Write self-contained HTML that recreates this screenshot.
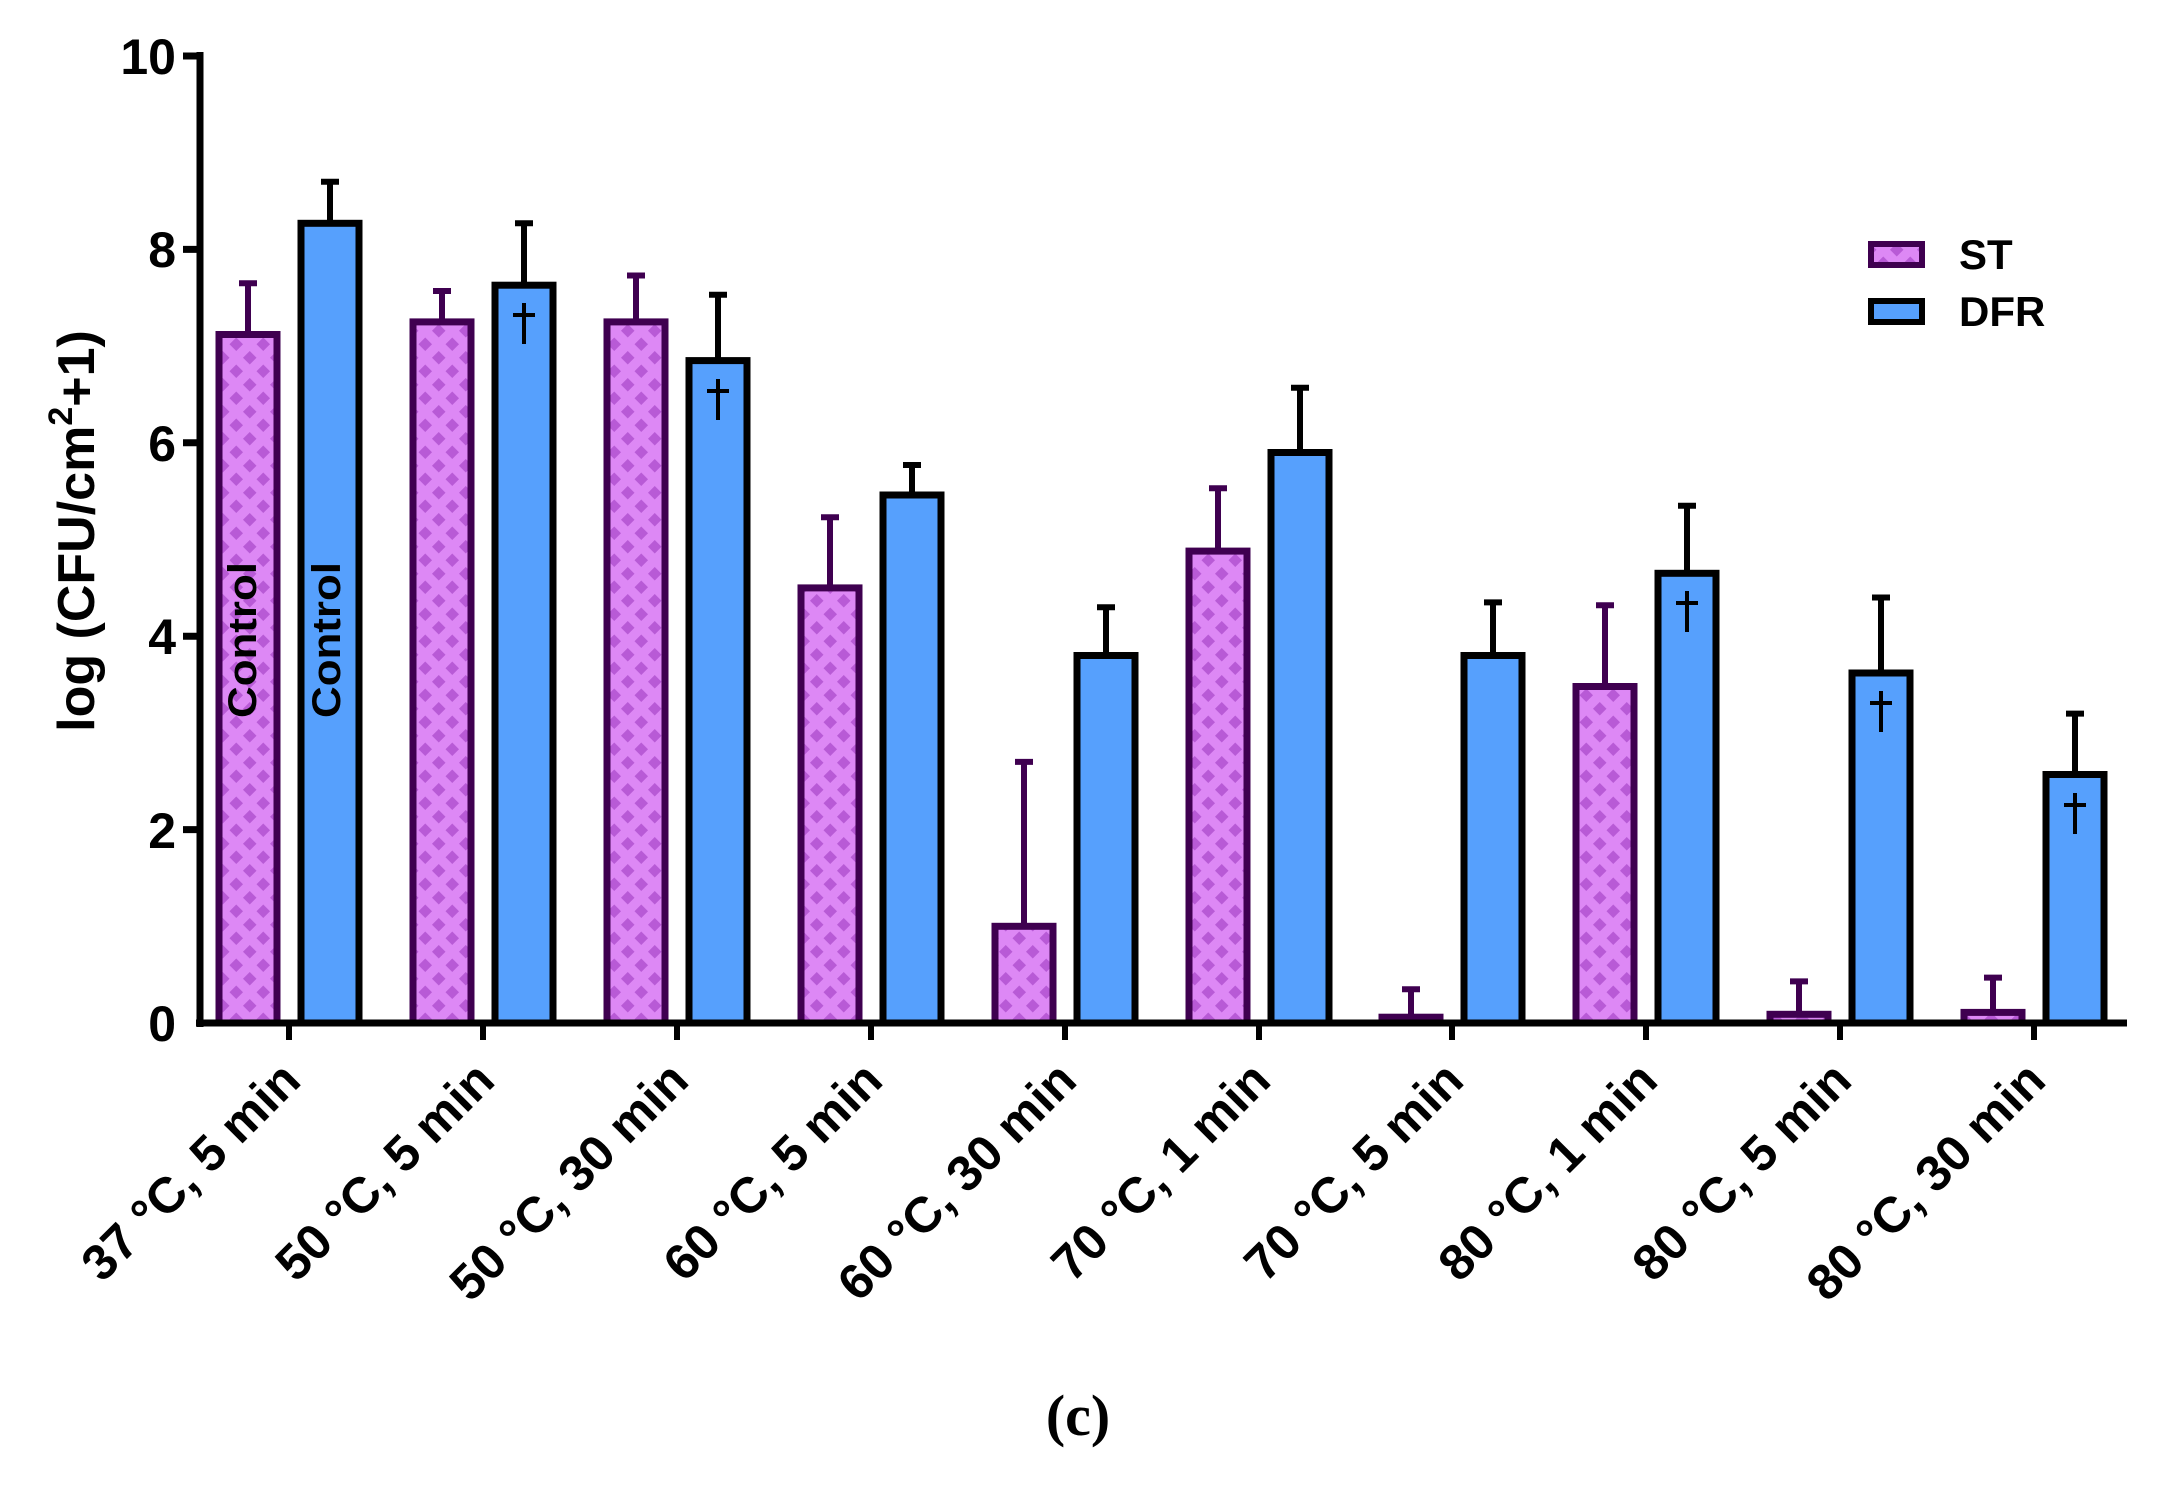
<!DOCTYPE html>
<html><head><meta charset="utf-8"><style>
html,body{margin:0;padding:0;background:#fff;}
svg{display:block;}
text{font-family:"Liberation Sans",Arial,sans-serif;font-weight:bold;fill:#000;}
</style></head><body>
<svg width="2166" height="1489" viewBox="0 0 2166 1489" xmlns="http://www.w3.org/2000/svg">
<defs>
<pattern id="dia" patternUnits="userSpaceOnUse" width="27" height="27" x="0" y="0">
<rect width="27" height="27" fill="#dd88f5"/>
<polygon points="6.75,0 13.5,6.75 6.75,13.5 0,6.75" fill="#b85ad6"/>
<polygon points="20.25,13.5 27,20.25 20.25,27 13.5,20.25" fill="#b85ad6"/>
</pattern>
</defs>
<!-- error bars ST -->
<g stroke="#3f0050" stroke-width="6">
<line x1="248" y1="334.5" x2="248" y2="283.2"/><line x1="239" y1="283.2" x2="257" y2="283.2"/>
<line x1="442" y1="321.9" x2="442" y2="291.0"/><line x1="433" y1="291.0" x2="451" y2="291.0"/>
<line x1="636" y1="321.9" x2="636" y2="275.5"/><line x1="627" y1="275.5" x2="645" y2="275.5"/>
<line x1="830" y1="587.9" x2="830" y2="517.3"/><line x1="821" y1="517.3" x2="839" y2="517.3"/>
<line x1="1024" y1="926.3" x2="1024" y2="761.9"/><line x1="1015" y1="761.9" x2="1033" y2="761.9"/>
<line x1="1218" y1="551.1" x2="1218" y2="488.2"/><line x1="1209" y1="488.2" x2="1227" y2="488.2"/>
<line x1="1411" y1="1017.2" x2="1411" y2="989.2"/><line x1="1402" y1="989.2" x2="1420" y2="989.2"/>
<line x1="1605" y1="686.5" x2="1605" y2="605.3"/><line x1="1596" y1="605.3" x2="1614" y2="605.3"/>
<line x1="1799" y1="1014.3" x2="1799" y2="981.4"/><line x1="1790" y1="981.4" x2="1808" y2="981.4"/>
<line x1="1993" y1="1012.4" x2="1993" y2="977.6"/><line x1="1984" y1="977.6" x2="2002" y2="977.6"/>
</g>
<!-- error bars DFR -->
<g stroke="#000" stroke-width="6">
<line x1="330" y1="223.3" x2="330" y2="181.7"/><line x1="321" y1="181.7" x2="339" y2="181.7"/>
<line x1="524" y1="285.2" x2="524" y2="223.3"/><line x1="515" y1="223.3" x2="533" y2="223.3"/>
<line x1="718" y1="360.6" x2="718" y2="294.8"/><line x1="709" y1="294.8" x2="727" y2="294.8"/>
<line x1="912" y1="495.0" x2="912" y2="465.0"/><line x1="903" y1="465.0" x2="921" y2="465.0"/>
<line x1="1106" y1="655.5" x2="1106" y2="607.2"/><line x1="1097" y1="607.2" x2="1115" y2="607.2"/>
<line x1="1300" y1="452.5" x2="1300" y2="387.7"/><line x1="1291" y1="387.7" x2="1309" y2="387.7"/>
<line x1="1493" y1="655.5" x2="1493" y2="602.4"/><line x1="1484" y1="602.4" x2="1502" y2="602.4"/>
<line x1="1687" y1="573.3" x2="1687" y2="505.7"/><line x1="1678" y1="505.7" x2="1696" y2="505.7"/>
<line x1="1881" y1="673.0" x2="1881" y2="597.5"/><line x1="1872" y1="597.5" x2="1890" y2="597.5"/>
<line x1="2075" y1="774.5" x2="2075" y2="713.6"/><line x1="2066" y1="713.6" x2="2084" y2="713.6"/>
</g>
<!-- ST bars -->
<g fill="url(#dia)" stroke="#3f0050" stroke-width="7">
<rect x="219" y="334.5" width="58" height="688.5"/>
<rect x="413" y="321.9" width="58" height="701.1"/>
<rect x="607" y="321.9" width="58" height="701.1"/>
<rect x="801" y="587.9" width="58" height="435.1"/>
<rect x="995" y="926.3" width="58" height="96.7"/>
<rect x="1189" y="551.1" width="58" height="471.9"/>
<rect x="1382" y="1017.2" width="58" height="5.8"/>
<rect x="1576" y="686.5" width="58" height="336.5"/>
<rect x="1770" y="1014.3" width="58" height="8.7"/>
<rect x="1964" y="1012.4" width="58" height="10.6"/>
</g>
<!-- DFR bars -->
<g fill="#56a0fd" stroke="#000" stroke-width="7">
<rect x="301" y="223.3" width="58" height="799.7"/>
<rect x="495" y="285.2" width="58" height="737.8"/>
<rect x="689" y="360.6" width="58" height="662.4"/>
<rect x="883" y="495.0" width="58" height="528.0"/>
<rect x="1077" y="655.5" width="58" height="367.5"/>
<rect x="1271" y="452.5" width="58" height="570.5"/>
<rect x="1464" y="655.5" width="58" height="367.5"/>
<rect x="1658" y="573.3" width="58" height="449.7"/>
<rect x="1852" y="673.0" width="58" height="350.0"/>
<rect x="2046" y="774.5" width="58" height="248.5"/>
</g>
<!-- daggers -->
<g stroke="#000" stroke-width="4">
<line x1="524" y1="303" x2="524" y2="344"/><line x1="513" y1="315" x2="535" y2="315"/>
<line x1="718" y1="379" x2="718" y2="420"/><line x1="707" y1="391" x2="729" y2="391"/>
<line x1="1687" y1="591" x2="1687" y2="632"/><line x1="1676" y1="603" x2="1698" y2="603"/>
<line x1="1881" y1="691" x2="1881" y2="732"/><line x1="1870" y1="703" x2="1892" y2="703"/>
<line x1="2075" y1="793" x2="2075" y2="834"/><line x1="2064" y1="805" x2="2086" y2="805"/>
</g>
<text transform="translate(256,718) rotate(-90)" font-size="40" textLength="156" lengthAdjust="spacingAndGlyphs">Control</text>
<text transform="translate(340,718) rotate(-90)" font-size="40" textLength="156" lengthAdjust="spacingAndGlyphs">Control</text>
<!-- axes -->
<line x1="200" y1="52" x2="200" y2="1027" stroke="#000" stroke-width="7"/>
<line x1="196" y1="1023" x2="2127" y2="1023" stroke="#000" stroke-width="7"/>
<g stroke="#000" stroke-width="7">
<line x1="183" y1="56" x2="200" y2="56"/>
<line x1="183" y1="249.4" x2="200" y2="249.4"/>
<line x1="183" y1="442.8" x2="200" y2="442.8"/>
<line x1="183" y1="636.2" x2="200" y2="636.2"/>
<line x1="183" y1="829.6" x2="200" y2="829.6"/>
</g>
<g stroke="#000" stroke-width="6">
<line x1="289" y1="1023" x2="289" y2="1040"/>
<line x1="483" y1="1023" x2="483" y2="1040"/>
<line x1="677" y1="1023" x2="677" y2="1040"/>
<line x1="871" y1="1023" x2="871" y2="1040"/>
<line x1="1065" y1="1023" x2="1065" y2="1040"/>
<line x1="1259" y1="1023" x2="1259" y2="1040"/>
<line x1="1452" y1="1023" x2="1452" y2="1040"/>
<line x1="1646" y1="1023" x2="1646" y2="1040"/>
<line x1="1840" y1="1023" x2="1840" y2="1040"/>
<line x1="2034" y1="1023" x2="2034" y2="1040"/>
</g>
<g font-size="50" text-anchor="end">
<text x="176" y="74">10</text>
<text x="176" y="267">8</text>
<text x="176" y="461">6</text>
<text x="176" y="654">4</text>
<text x="176" y="848">2</text>
<text x="176" y="1041">0</text>
</g>
<g font-size="50" text-anchor="end">
<text transform="translate(303,1083) rotate(-45)">37 °C, 5 min</text>
<text transform="translate(497,1083) rotate(-45)">50 °C, 5 min</text>
<text transform="translate(691,1083) rotate(-45)">50 °C, 30 min</text>
<text transform="translate(885,1083) rotate(-45)">60 °C, 5 min</text>
<text transform="translate(1079,1083) rotate(-45)">60 °C, 30 min</text>
<text transform="translate(1273,1083) rotate(-45)">70 °C, 1 min</text>
<text transform="translate(1466,1083) rotate(-45)">70 °C, 5 min</text>
<text transform="translate(1660,1083) rotate(-45)">80 °C, 1 min</text>
<text transform="translate(1854,1083) rotate(-45)">80 °C, 5 min</text>
<text transform="translate(2048,1083) rotate(-45)">80 °C, 30 min</text>
</g>
<text transform="translate(94,531) rotate(-90)" font-size="52" text-anchor="middle">log (CFU/cm<tspan font-size="34" dy="-22">2</tspan><tspan dy="22">+1)</tspan></text>
<!-- legend -->
<rect x="1871" y="244" width="51" height="21" fill="url(#dia)" stroke="#3f0050" stroke-width="6"/>
<rect x="1871" y="301" width="51" height="21" fill="#56a0fd" stroke="#000" stroke-width="6"/>
<text x="1959" y="269" font-size="42">ST</text>
<text x="1959" y="326" font-size="42">DFR</text>
<text x="1078" y="1435" font-size="58" text-anchor="middle" style="font-family:'Liberation Serif',serif">(c)</text>
</svg>
</body></html>
